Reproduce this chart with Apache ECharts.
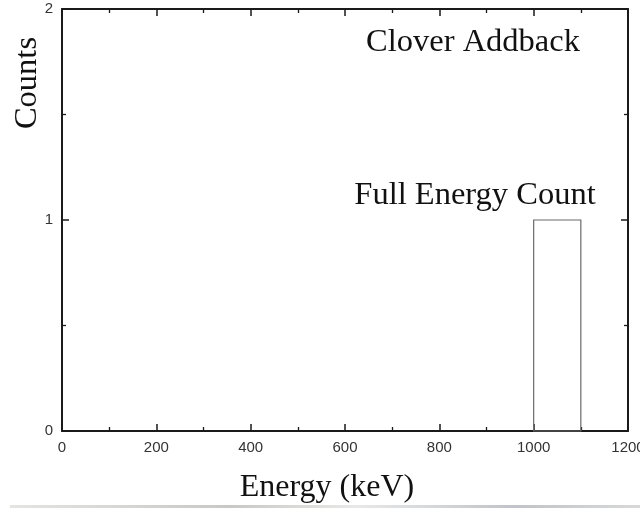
<!DOCTYPE html>
<html>
<head>
<meta charset="utf-8">
<script src="https://cdn.jsdelivr.net/npm/echarts@6/dist/echarts.min.js"></script>
<style>
  html, body { margin: 0; padding: 0; background: #fff; }
  #chart { width: 640px; height: 508px; }
</style>
</head>
<body>
<div id="chart"></div>
<script>
// Histogram bins (keV) and their counts
const binStart = [1000];
const binEnd = [1100];
const binCounts = [1];

// Axis ranges and tick spacing
const xRange = [0, 1200];
const xStep = 200;
const yRange = [0, 2];
const yStep = 1;

const serif = '"Liberation Serif", "Times New Roman", serif';
const sans = '"Liberation Sans", Arial, sans-serif';
const axisColor = '#1a1a1a';

const chart = echarts.init(document.getElementById('chart'), null, { renderer: 'canvas' });

const bins = binStart.map((s, i) => [s, binEnd[i], binCounts[i]]);

function frameAxis(extra) {
  return Object.assign({
    type: 'value',
    axisLine: { show: true, onZero: false, lineStyle: { color: axisColor, width: 2 } },
    axisTick: { show: true, inside: true, length: 7, lineStyle: { color: axisColor, width: 1.5 } },
    minorTick: { show: true, splitNumber: 2, length: 4, lineStyle: { color: axisColor, width: 1.3 } },
    splitLine: { show: false },
    minorSplitLine: { show: false }
  }, extra);
}

const plainNumber = v => String(v);

const option = {
  animation: false,
  backgroundColor: '#fff',
  grid: { left: 62, right: 12, top: 9, bottom: 77, containLabel: false, outerBoundsMode: 'none' },
  xAxis: [
    frameAxis({
      position: 'bottom', min: xRange[0], max: xRange[1], interval: xStep,
      axisLabel: { show: true, margin: 9, color: '#333', fontFamily: sans, fontSize: 15,
                   formatter: plainNumber, hideOverlap: false }
    }),
    frameAxis({
      position: 'top', min: xRange[0], max: xRange[1], interval: xStep,
      axisLabel: { show: false }
    })
  ],
  yAxis: [
    frameAxis({
      position: 'left', min: yRange[0], max: yRange[1], interval: yStep,
      axisLabel: { show: true, margin: 9, color: '#333', fontFamily: sans, fontSize: 15,
                   formatter: plainNumber }
    }),
    frameAxis({
      position: 'right', min: yRange[0], max: yRange[1], interval: yStep,
      axisLabel: { show: false }
    })
  ],
  series: [{
    type: 'custom',
    xAxisIndex: 0,
    yAxisIndex: 0,
    data: bins,
    encode: { x: [0, 1], y: 2 },
    renderItem: function (params, api) {
      const p0 = api.coord([api.value(0), 0]);
      const p1 = api.coord([api.value(1), api.value(2)]);
      return {
        type: 'rect',
        shape: { x: p0[0], y: p1[1], width: p1[0] - p0[0], height: p0[1] - p1[1] },
        style: { fill: 'none', stroke: '#6a6a6a', lineWidth: 1.2 }
      };
    }
  }],
  graphic: [
    {
      type: 'text',
      style: { text: 'Clover Addback', x: 473, y: 42, align: 'center', verticalAlign: 'middle',
               font: '32.5px ' + serif, fill: '#111' }
    },
    {
      type: 'text',
      style: { text: 'Full Energy Count', x: 475, y: 195, align: 'center', verticalAlign: 'middle',
               font: '32.5px ' + serif, fill: '#111' }
    },
    {
      type: 'text',
      style: { text: 'Energy (keV)', x: 327, y: 488, align: 'center', verticalAlign: 'middle',
               font: '32px ' + serif, fill: '#111' }
    },
    {
      type: 'text', x: 27, y: 83, rotation: Math.PI / 2,
      style: { text: 'Counts', x: 0, y: 0, align: 'center', verticalAlign: 'middle',
               font: '32.5px ' + serif, fill: '#111' }
    },
    {
      type: 'rect', silent: true,
      shape: { x: 10, y: 505, width: 630, height: 3 },
      style: {
        fill: new echarts.graphic.LinearGradient(0, 0, 1, 0, [
          { offset: 0, color: '#e4e4e0' },
          { offset: 0.35, color: '#c8c8c4' },
          { offset: 0.55, color: '#e8e8e8' },
          { offset: 0.8, color: '#c0c4c8' },
          { offset: 1, color: '#d8d8d8' }
        ])
      }
    }
  ]
};

chart.setOption(option);
</script>
</body>
</html>
